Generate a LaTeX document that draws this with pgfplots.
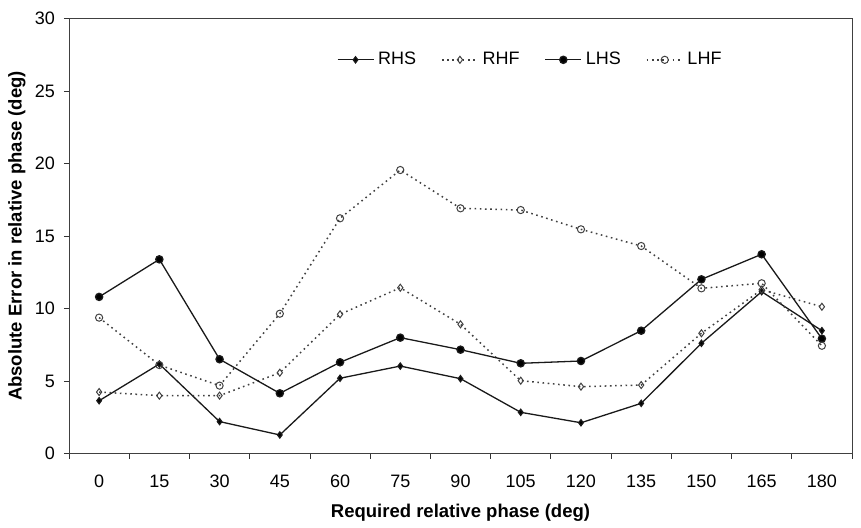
\documentclass[border=0pt]{standalone}
\usepackage{pgfplots}
\pgfplotsset{compat=1.18}
\usepackage{fontspec}
\setmainfont{Liberation Sans}
\begin{document}
\fontsize{18}{21}\selectfont
\begin{tikzpicture}
\begin{axis}[
  scale only axis, width=783pt, height=435pt,
  xmin=-0.5, xmax=12.5, ymin=0, ymax=30,
  xtick={0,...,12},
  xticklabels={0,15,30,45,60,75,90,105,120,135,150,165,180},
  major x tick style={draw=none},
  minor xtick={-0.5,0.5,...,12.5},
  minor x tick style={black!80, line width=0.8pt},
  ytick={0,5,...,30},
  tick align=outside, tick pos=left,
  major tick length=5pt, minor tick length=5pt,
  y tick style={black!80, line width=0.8pt},
  axis line style={black!75, line width=0.9pt},
  /pgf/number format/assume math mode=true,
  tick label style={font=\fontsize{18}{21}\selectfont},
  xticklabel style={anchor=north, yshift=-10pt},
  yticklabel style={anchor=east, xshift=-3pt},
  xlabel={\bfseries Required relative phase (deg)},
  ylabel={\bfseries Absolute Error in relative phase (deg)},
  xlabel style={at={(axis description cs:0.5,-0.136)}, anchor=center, font=\fontsize{18.5}{21}\selectfont},
  ylabel style={at={(axis description cs:-0.0664,0.5)}, anchor=center, font=\fontsize{18.5}{21}\selectfont},
  legend columns=4,
  legend style={draw=none, fill=none, at={(axis description cs:0.589,0.905)}, anchor=center, font=\fontsize{18}{21}\selectfont, /tikz/every even column/.append style={column sep=23pt}, /tikz/every odd column/.append style={column sep=2pt}, inner sep=0pt},
  legend image code/.code={\draw[mark repeat=2,mark phase=2,#1] plot coordinates {(0pt,0pt) (18pt,0pt) (36pt,0pt)};},
]
\addplot[black!90, line width=1.3pt, mark=diamond*, mark size=3pt, mark options={solid, fill=black}] coordinates {
(0,3.64) (1,6.17) (2,2.2) (3,1.28) (4,5.19) (5,6.03) (6,5.16) (7,2.84) (8,2.12) (9,3.46) (10,7.6) (11,11.16) (12,8.47)};
\addlegendentry{RHS}
\addplot[black!75, line width=1.5pt, dash pattern=on 1.6pt off 3.6pt, mark=diamond, mark size=3.5pt, mark options={solid, fill=white, line width=1pt}] coordinates {
(0,4.24) (1,3.99) (2,3.99) (3,5.57) (4,9.6) (5,11.43) (6,8.91) (7,5.02) (8,4.61) (9,4.72) (10,8.29) (11,11.3) (12,10.12)};
\addlegendentry{RHF}
\addplot[black!90, line width=1.3pt, mark=*, mark size=3.6pt, mark options={solid, fill=black}] coordinates {
(0,10.8) (1,13.39) (2,6.5) (3,4.15) (4,6.29) (5,7.99) (6,7.16) (7,6.22) (8,6.38) (9,8.47) (10,12.01) (11,13.74) (12,7.92)};
\addlegendentry{LHS}
\addplot[black!75, line width=1.5pt, dash pattern=on 1.6pt off 3.6pt, mark=o, mark size=3.6pt, mark options={solid, fill=white, line width=1pt}] coordinates {
(0,9.37) (1,6.1) (2,4.68) (3,9.64) (4,16.22) (5,19.55) (6,16.91) (7,16.79) (8,15.46) (9,14.31) (10,11.39) (11,11.74) (12,7.43)};
\addlegendentry{LHF}
\end{axis}
\useasboundingbox (-69pt,-67.5pt) rectangle (792pt,453.5pt);
\end{tikzpicture}
\end{document}
